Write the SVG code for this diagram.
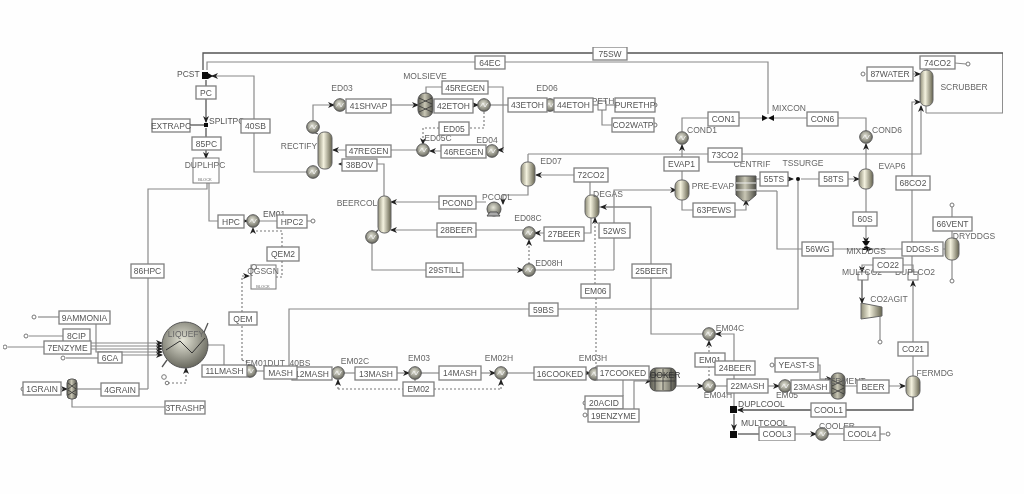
<svg xmlns="http://www.w3.org/2000/svg" width="1024" height="494" viewBox="0 0 1024 494">
<style>
text{font-family:"Liberation Sans",Arial,sans-serif;font-size:8.5px;fill:#555}
.t{text-anchor:middle}
.l{text-anchor:middle;fill:#666}
.b{fill:#fff;stroke:#808080;stroke-width:1.3}
.c{fill:none;stroke:#8a8a8a;stroke-width:1.2}
.k{fill:none;stroke:#555;stroke-width:1.3}
.d{fill:none;stroke:#777;stroke-width:1.1;stroke-dasharray:2 2}
.a{marker-end:url(#ar)}
.o{fill:#fff;stroke:#777;stroke-width:1}
.u{fill:url(#col);stroke:#666;stroke-width:1}
.w{fill:#fff;stroke:#777;stroke-width:1}
.s{fill:#111}
</style>
<defs>
<filter id="soft" x="0" y="0" width="100%" height="100%"><feGaussianBlur stdDeviation="0.4"/></filter>
<linearGradient id="col" x1="0" x2="1" y1="0" y2="0"><stop offset="0" stop-color="#8f8d78"/><stop offset=".4" stop-color="#f4f2df"/><stop offset="1" stop-color="#65634f"/></linearGradient>
<radialGradient id="sph" cx=".45" cy=".4" r=".65"><stop offset="0" stop-color="#e6e6d8"/><stop offset="1" stop-color="#5f5f55"/></radialGradient>
<linearGradient id="grid" x1="0" x2="1" y1="0" y2="0"><stop offset="0" stop-color="#5a5a50"/><stop offset=".45" stop-color="#c8c6b4"/><stop offset="1" stop-color="#4d4d45"/></linearGradient>
<marker id="ar" markerUnits="userSpaceOnUse" markerWidth="8" markerHeight="8" refX="6" refY="4" orient="auto"><path d="M0,1 L7,4 L0,7 L2,4 z" fill="#222"/></marker>
<g id="hx"><circle r="6.3" fill="url(#sph)" stroke="#555" stroke-width="1"/><path d="M-3.5,1.5 L-1,-2 L1,2 L3.5,-2" fill="none" stroke="#eee" stroke-width=".9"/></g>
</defs>
<rect width="1024" height="494" fill="#fefefe"/>
<g id="diagram" filter="url(#soft)">
<g id="connectors">
<polyline class="k" points="1003,113 1003,53 203,53 203,70"/>
<line class="c" x1="1003" y1="113" x2="926" y2="113"/>
<line class="c" x1="926" y1="113" x2="926" y2="106"/>
<polyline class="c" points="768,114 768,62 207,62 207,70"/>
<polyline class="c a" points="313,172 254,172 254,76 212,76"/>
<polyline class="k a" points="206,80 206,122"/>
<line class="k" x1="190" y1="125" x2="206" y2="125"/>
<polyline class="k a" points="206,128 206,158"/>
<polyline class="c" points="148,389 148,189 207,189 207,183"/>
<polyline class="c" points="139,389 148,389"/>
<polyline class="c a" points="209,183 209,221 247,221"/>
<polyline class="c" points="259,221 307,221 311,221"/>
<polyline class="d a" points="282,247 282,231 253,231 253,228"/>
<polyline class="d" points="282,261 282,277 276,277"/>
<polyline class="d a" points="242,360 242,276 249,276"/>
<polyline class="d" points="242,360 247,362 250,367"/>
<line class="c" x1="38" y1="317" x2="59" y2="317"/>
<line class="c" x1="29" y1="336" x2="63" y2="336"/>
<line class="c" x1="8" y1="347" x2="44" y2="347"/>
<line class="c" x1="66" y1="358" x2="98" y2="358"/>
<polyline class="c a" points="90,343 162,343"/>
<polyline class="c a" points="91,346 162,346"/>
<polyline class="c a" points="91,349 162,349"/>
<polyline class="c a" points="96,324 96,352 162,352"/>
<polyline class="c a" points="122,355 162,355"/>
<line class="k" x1="202" y1="337" x2="208" y2="323"/>
<line class="k" x1="162" y1="367" x2="167" y2="360"/>
<polyline class="c a" points="61,389 67,389"/>
<polyline class="c" points="77,389 101,389"/>
<polyline class="c" points="72,399 72,407 165,407"/>
<polyline class="c" points="207,345 224,345 224,365"/>
<polyline class="d a" points="168,383 186,383 186,368"/>
<line class="c" x1="244" y1="371" x2="264" y2="371"/>
<polyline class="c" points="289,366 289,309 798,309 798,179"/>
<polyline class="c a" points="326,373 332,373"/>
<line class="c" x1="344" y1="373" x2="355" y2="373"/>
<polyline class="c a" points="397,373 409,373"/>
<line class="c" x1="421" y1="373" x2="439" y2="373"/>
<polyline class="c a" points="481,373 495,373"/>
<line class="c" x1="507" y1="373" x2="534" y2="373"/>
<polyline class="c a" points="586,373 590,373"/>
<polyline class="d a" points="338,389 338,380"/>
<polyline class="d" points="338,389 403,389"/>
<polyline class="d a" points="501,389 501,380"/>
<polyline class="d" points="434,389 501,389"/>
<line class="d" x1="415" y1="379" x2="415" y2="382"/>
<polyline class="c a" points="623,396 623,377 650,377"/>
<polyline class="c a" points="634,409 634,381 651,381"/>
<line class="c" x1="588" y1="415" x2="584" y2="415"/>
<line class="d" x1="596" y1="368" x2="596" y2="298"/>
<polyline class="d a" points="595,284 595,218"/>
<polyline class="c a" points="676,386 703,386"/>
<polyline class="c" points="715,386 727,386"/>
<polyline class="c a" points="768,386 779,386"/>
<polyline class="c" points="791,386 791,393 832,393"/>
<polyline class="c a" points="773,365 820,365 820,379 832,379"/>
<polyline class="c a" points="845,386 905,386"/>
<polyline class="d a" points="709,380 709,341"/>
<polyline class="c a" points="734,406 734,334 716,334"/>
<polyline class="c" points="703,334 651,334 651,207 599,207"/>
<polyline class="c a" points="651,207 601,207"/>
<polyline class="k a" points="913,396 913,410 738,410"/>
<polyline class="k a" points="734,414 734,430"/>
<polyline class="k" points="738,434 759,434"/>
<polyline class="c a" points="795,434 816,434"/>
<polyline class="c" points="828,434 844,434"/>
<line class="c" x1="880" y1="434" x2="885" y2="434"/>
<polyline class="c a" points="913,376 913,281"/>
<polyline class="c a" points="912,272 912,102 920,102"/>
<polyline class="c a" points="528,154 921,154 921,106"/>
<polyline class="c" points="528,162 528,154"/>
<polyline class="c a" points="867,74 920,74"/>
<polyline class="c" points="927,70 927,63"/>
<line class="c" x1="955" y1="63" x2="966" y2="64"/>
<polyline class="c a" points="908,265 862,265 862,272"/>
<polyline class="c" points="908,265 913,265 913,272"/>
<polyline class="k a" points="862,280 862,303"/>
<polyline class="c" points="880,312 880,340"/>
<polyline class="c a" points="866,189 866,243"/>
<polyline class="c a" points="777,191 777,249 872,249"/>
<polyline class="c" points="756,191 777,191"/>
<line class="c" x1="872" y1="249" x2="945" y2="249"/>
<line class="c" x1="952" y1="238" x2="952" y2="207"/>
<line class="c" x1="952" y1="260" x2="952" y2="279"/>
<polyline class="c a" points="866,169 866,144"/>
<polyline class="c" points="866,131 866,118 774,118"/>
<polyline class="c" points="682,131 682,118 762,118"/>
<polyline class="c a" points="682,180 682,145"/>
<polyline class="c a" points="682,200 682,210 746,210 746,200"/>
<polyline class="c a" points="756,179 793,179"/>
<polyline class="c a" points="801,179 859,179"/>
<polyline class="c a" points="614,270 614,190 676,190"/>
<polyline class="c" points="535,270 614,270"/>
<polyline class="c a" points="372,241 372,270 523,270"/>
<polyline class="d a" points="529,264 529,240"/>
<polyline class="c a" points="584,233 535,233"/>
<polyline class="c" points="584,233 591,233 591,217"/>
<polyline class="c a" points="523,230 391,230"/>
<polyline class="c a" points="590,195 590,175 536,175"/>
<polyline class="c a" points="528,186 528,195 503,195 503,204"/>
<polyline class="c a" points="486,202 391,202"/>
<polyline class="c a" points="384,196 384,164 339,164"/>
<polyline class="c a" points="423,150 333,150"/>
<polyline class="c a" points="486,151 430,151"/>
<polyline class="c" points="426,93 426,87 442,87"/>
<polyline class="c a" points="488,87 503,87 503,150 498,150"/>
<polyline class="c a" points="313,122 313,105 334,105"/>
<polyline class="c a" points="391,105 418,105"/>
<polyline class="c a" points="473,105 478,105"/>
<line class="c" x1="490" y1="105" x2="508" y2="105"/>
<polyline class="d" points="484,112 484,128 469,128"/>
<polyline class="d a" points="439,128 423,128 423,144"/>
<line class="c" x1="547" y1="105" x2="554" y2="105"/>
<line class="c" x1="593" y1="105" x2="615" y2="105"/>
<polyline class="c" points="602,110 602,125 612,125"/>
<polyline class="k" points="318,134 313,132"/>
<polyline class="k" points="318,170 313,172"/>
<polyline class="k" points="378,230 372,237"/>
</g>
<g id="PCST"><rect class="s" x="202" y="72" width="6" height="7"/><path class="s" d="M208,73 L213,76 L208,79 z"/><text x="177" y="77">PCST</text></g>
<g id="SPLITPC"><rect class="s" x="204" y="123" width="4" height="4"/><text x="209" y="124">SPLITPC</text></g>
<g id="DUPLHPC"><rect class="w" x="193" y="158" width="26" height="25"/><text class="l" x="205" y="168">DUPLHPC</text><text class="l" x="205" y="181" style="font-size:4px">BLOCK</text></g>
<g id="QGSGN"><rect class="w" x="251" y="265" width="25" height="24"/><circle class="o" cx="254" cy="267" r="2.5"/><text class="l" x="263" y="274">QGSGN</text><text class="l" x="263" y="288" style="font-size:4px">BLOCK</text></g>
<g id="EM01"><use href="#hx" x="253" y="221"/><text x="263" y="217">EM01</text></g>
<g id="LIQUEFY"><circle cx="185" cy="345" r="23" fill="url(#sph)" stroke="#555"/><path d="M166,350 L180,341 L192,353 L205,338" fill="none" stroke="#333"/><text class="l" x="186" y="337">LIQUEFY</text><circle class="o" cx="164" cy="377" r="2.3"/><circle class="o" cx="167" cy="383" r="1.8"/></g>
<g id="HAMMERMILL"><rect x="67" y="379" width="10" height="20" rx="4" fill="url(#grid)" stroke="#555"/><path d="M68,383 L76,389 M76,383 L68,389 M68,390 L76,395 M76,390 L68,395" stroke="#333" stroke-width=".8"/></g>
<g id="EM01CD"><use href="#hx" x="250" y="371"/><text class="l" x="265" y="366">EM01DUT</text><text class="l" x="300" y="366">40BS</text></g>
<g id="EM02C"><use href="#hx" x="338" y="373"/><text class="l" x="355" y="364">EM02C</text></g>
<g id="EM03"><use href="#hx" x="415" y="373"/><text class="l" x="419" y="361">EM03</text></g>
<g id="EM02H"><use href="#hx" x="501" y="373"/><text class="l" x="499" y="361">EM02H</text></g>
<g id="EM03H"><use href="#hx" x="595" y="374"/><text class="l" x="593" y="361">EM03H</text></g>
<g id="COOKER"><rect x="650" y="368" width="26" height="23" rx="6" fill="url(#grid)" stroke="#444"/><path d="M651,375 H675 M651,381 H675 M655,369 V390 M663,369 V390 M671,369 V390" stroke="#333" stroke-width=".8"/><text class="l" x="662" y="378" style="fill:#333">COOKER</text></g>
<g id="EM04H"><use href="#hx" x="709" y="386"/><text class="l" x="718" y="398">EM04H</text></g>
<g id="EM04C"><use href="#hx" x="709" y="334"/><text class="l" x="730" y="331">EM04C</text></g>
<g id="EM05"><use href="#hx" x="785" y="386"/><text class="l" x="787" y="398">EM05</text></g>
<g id="FERMENT"><rect x="831" y="373" width="14" height="26" rx="6" fill="url(#grid)" stroke="#555"/><path d="M832,380 L844,386 M844,380 L832,386 M832,388 L844,394 M844,388 L832,394" stroke="#333" stroke-width=".8"/><text class="l" x="845" y="384">FERMENT</text></g>
<g id="FERMDG"><rect class="u" x="906" y="376" width="14" height="21" rx="6"/><text class="l" x="935" y="376">FERMDG</text></g>
<g id="DUPLCOOL"><rect class="s" x="730" y="406" width="7" height="7"/><text x="738" y="407">DUPLCOOL</text></g>
<g id="MULTCOOL"><rect class="s" x="730" y="431" width="7" height="7"/><text x="741" y="426">MULTCOOL</text></g>
<g id="COOLER"><use href="#hx" x="822" y="434"/><text class="l" x="837" y="429">COOLER</text></g>
<g id="RECTIFY"><rect class="u" x="318" y="132" width="14" height="37" rx="6"/><use href="#hx" x="313" y="127"/><use href="#hx" x="313" y="172"/><text class="l" x="299" y="149">RECTIFY</text></g>
<g id="ED03"><use href="#hx" x="340" y="105"/><text class="l" x="342" y="91">ED03</text></g>
<g id="MOLSIEVE"><rect x="418" y="93" width="15" height="24" rx="7" fill="url(#grid)" stroke="#555"/><path d="M419,98 L432,104 M432,98 L419,104 M419,106 L432,112 M432,106 L419,112" stroke="#333" stroke-width=".8"/><text class="l" x="425" y="79">MOLSIEVE</text></g>
<g id="ED05H"><use href="#hx" x="484" y="105"/></g>
<g id="ED05C"><use href="#hx" x="423" y="150"/><text class="l" x="438" y="141">ED05C</text></g>
<g id="ED04"><use href="#hx" x="492" y="151"/><text class="l" x="487" y="143">ED04</text></g>
<g id="ED06"><use href="#hx" x="550" y="105"/><text class="l" x="547" y="91">ED06</text></g>
<g id="PETH"><rect class="w" x="598" y="101" width="8" height="9"/><text class="l" x="603" y="104">PETH</text></g>
<g id="ED07"><rect class="u" x="521" y="162" width="14" height="24" rx="6"/><text class="l" x="551" y="164">ED07</text></g>
<g id="BEERCOL"><rect class="u" x="378" y="196" width="13" height="37" rx="6"/><use href="#hx" x="372" y="237"/><text class="l" x="357" y="206">BEERCOL</text></g>
<g id="PCOOL"><circle cx="494" cy="209" r="7" fill="url(#sph)" stroke="#555"/><path d="M487,216 H500 L497,212 H490 z" fill="#aaa" stroke="#555"/><text class="l" x="497" y="200">PCOOL</text></g>
<g id="ED08C"><use href="#hx" x="529" y="233"/><text class="l" x="528" y="221">ED08C</text></g>
<g id="ED08H"><use href="#hx" x="529" y="270"/><text class="l" x="549" y="266">ED08H</text></g>
<g id="DEGAS"><rect class="u" x="585" y="195" width="14" height="23" rx="6"/><text class="l" x="608" y="197">DEGAS</text></g>
<g id="PRE-EVAP"><rect class="u" x="675" y="180" width="14" height="20" rx="6"/><text class="l" x="713" y="189">PRE-EVAP</text></g>
<g id="COND1"><use href="#hx" x="682" y="138"/><text class="l" x="702" y="133">COND1</text></g>
<g id="MIXCON"><path class="s" d="M762,115 L768,118 L762,121 z M774,115 L768,118 L774,121 z"/><text class="l" x="789" y="111">MIXCON</text></g>
<g id="COND6"><use href="#hx" x="866" y="137"/><text class="l" x="887" y="133">COND6</text></g>
<g id="CENTRIF"><path d="M736,176 H756 V195 L749,201 H743 L736,195 z" fill="url(#grid)" stroke="#555"/><path d="M736,183 H756 M736,190 H756" stroke="#eee" stroke-width="1"/><text class="l" x="752" y="167">CENTRIF</text></g>
<g id="TSSURGE"><circle class="s" cx="798" cy="179" r="2"/><text class="l" x="803" y="166">TSSURGE</text></g>
<g id="EVAP6"><rect class="u" x="859" y="169" width="14" height="20" rx="6"/><text class="l" x="892" y="169">EVAP6</text></g>
<g id="SCRUBBER"><rect class="u" x="920" y="70" width="13" height="36" rx="6"/><text class="l" x="964" y="90">SCRUBBER</text></g>
<g id="MIXDDGS"><path class="s" d="M862,241 H870 L866,247 z M862,250 H870 L866,245 z"/><text class="l" x="866" y="254">MIXDDGS</text></g>
<g id="DRYDDGS"><rect class="u" x="945" y="238" width="14" height="22" rx="6"/><text class="l" x="974" y="239">DRYDDGS</text></g>
<g id="MULTCO2"><rect class="w" x="858" y="272" width="10" height="8"/><text class="l" x="862" y="275">MULTCO2</text></g>
<g id="DUPLCO2"><rect class="w" x="908" y="272" width="10" height="8"/><text class="l" x="915" y="275">DUPLCO2</text></g>
<g id="CO2AGIT"><path d="M861,303 L882,307 V316 L861,319 z" fill="url(#col)" stroke="#666"/><text class="l" x="889" y="302">CO2AGIT</text></g>
<g id="outlets">
<circle class="o" cx="34" cy="317" r="2"/><circle class="o" cx="26" cy="336" r="2"/><circle class="o" cx="5" cy="347" r="2"/><circle class="o" cx="63" cy="358" r="2"/><circle class="o" cx="23" cy="389" r="2"/>
<circle class="o" cx="313" cy="221" r="2"/><circle class="o" cx="585" cy="403" r="2"/><circle class="o" cx="585" cy="415" r="2"/><circle class="o" cx="772" cy="365" r="2"/>
<circle class="o" cx="888" cy="434" r="2"/><circle class="o" cx="880" cy="342" r="2"/><circle class="o" cx="952" cy="205" r="2"/><circle class="o" cx="952" cy="281" r="2"/><circle class="o" cx="968" cy="64" r="2"/><circle class="o" cx="863" cy="74" r="2"/><circle class="o" cx="655" cy="105" r="2"/><circle class="o" cx="655" cy="125" r="2"/>
</g>
<g id="s-75SW"><rect class="b" x="593" y="47" width="34" height="13"/><text class="t" x="610" y="56.500">75SW</text></g>
<g id="s-64EC"><rect class="b" x="475" y="56" width="30" height="13"/><text class="t" x="490" y="65.500">64EC</text></g>
<g id="s-PC"><rect class="b" x="196" y="86" width="20" height="13"/><text class="t" x="206" y="95.500">PC</text></g>
<g id="s-EXTRAPC"><rect class="b" x="152" y="119" width="38" height="13"/><text class="t" x="171" y="128.500">EXTRAPC</text></g>
<g id="s-85PC"><rect class="b" x="192" y="137" width="29" height="13"/><text class="t" x="206.500" y="146.500">85PC</text></g>
<g id="s-40SB"><rect class="b" x="241" y="119" width="29" height="14"/><text class="t" x="255.500" y="129">40SB</text></g>
<g id="s-41SHVAP"><rect class="b" x="346" y="99" width="45" height="14"/><text class="t" x="368.500" y="109">41SHVAP</text></g>
<g id="s-45REGEN"><rect class="b" x="442" y="81" width="46" height="13"/><text class="t" x="465" y="90.500">45REGEN</text></g>
<g id="s-42ETOH"><rect class="b" x="434" y="99" width="39" height="14"/><text class="t" x="453.500" y="109">42ETOH</text></g>
<g id="s-ED05"><rect class="b" x="439" y="122" width="30" height="13"/><text class="t" x="454" y="131.500">ED05</text></g>
<g id="s-47REGEN"><rect class="b" x="346" y="145" width="45" height="12"/><text class="t" x="368.500" y="154">47REGEN</text></g>
<g id="s-46REGEN"><rect class="b" x="441" y="145" width="45" height="13"/><text class="t" x="463.500" y="154.500">46REGEN</text></g>
<g id="s-38BOV"><rect class="b" x="342" y="159" width="35" height="12"/><text class="t" x="359.500" y="168">38BOV</text></g>
<g id="s-PCOND"><rect class="b" x="439" y="196" width="37" height="13"/><text class="t" x="457.500" y="205.500">PCOND</text></g>
<g id="s-28BEER"><rect class="b" x="437" y="223" width="39" height="14"/><text class="t" x="456.500" y="233">28BEER</text></g>
<g id="s-29STILL"><rect class="b" x="426" y="263" width="37" height="14"/><text class="t" x="444.500" y="273">29STILL</text></g>
<g id="s-HPC"><rect class="b" x="218" y="215" width="26" height="13"/><text class="t" x="231" y="224.500">HPC</text></g>
<g id="s-HPC2"><rect class="b" x="277" y="215" width="30" height="13"/><text class="t" x="292" y="224.500">HPC2</text></g>
<g id="s-QEM2"><rect class="b" x="267" y="247" width="32" height="14"/><text class="t" x="283" y="257">QEM2</text></g>
<g id="s-QEM"><rect class="b" x="229" y="312" width="28" height="13"/><text class="t" x="243" y="321.500">QEM</text></g>
<g id="s-86HPC"><rect class="b" x="131" y="264" width="33" height="14"/><text class="t" x="147.500" y="274">86HPC</text></g>
<g id="s-9AMMONIA"><rect class="b" x="59" y="311" width="51" height="13"/><text class="t" x="84.500" y="320.500">9AMMONIA</text></g>
<g id="s-8CIP"><rect class="b" x="63" y="329" width="27" height="14"/><text class="t" x="76.500" y="339">8CIP</text></g>
<g id="s-7ENZYME"><rect class="b" x="44" y="341" width="47" height="13"/><text class="t" x="67.500" y="350.500">7ENZYME</text></g>
<g id="s-6CA"><rect class="b" x="98" y="352" width="24" height="11"/><text class="t" x="110" y="360.500">6CA</text></g>
<g id="s-1GRAIN"><rect class="b" x="23" y="382" width="38" height="13"/><text class="t" x="42" y="391.500">1GRAIN</text></g>
<g id="s-4GRAIN"><rect class="b" x="101" y="383" width="38" height="13"/><text class="t" x="120" y="392.500">4GRAIN</text></g>
<g id="s-3TRASHP"><rect class="b" x="165" y="401" width="40" height="13"/><text class="t" x="185" y="410.500">3TRASHP</text></g>
<g id="s-11LMASH"><rect class="b" x="202" y="365" width="45" height="12"/><text class="t" x="224.500" y="374">11LMASH</text></g>
<g id="s-12MASH"><rect class="b" x="292" y="367" width="40" height="13"/><text class="t" x="312" y="376.500">12MASH</text></g>
<g id="s-MASH"><rect class="b" x="264" y="366" width="33" height="13"/><text class="t" x="280.500" y="375.500">MASH</text></g>
<g id="s-59BS"><rect class="b" x="529" y="303" width="29" height="13"/><text class="t" x="543.500" y="312.500">59BS</text></g>
<g id="s-13MASH"><rect class="b" x="355" y="367" width="42" height="13"/><text class="t" x="376" y="376.500">13MASH</text></g>
<g id="s-14MASH"><rect class="b" x="439" y="366" width="42" height="14"/><text class="t" x="460" y="376">14MASH</text></g>
<g id="s-EM02"><rect class="b" x="403" y="382" width="31" height="14"/><text class="t" x="418.500" y="392">EM02</text></g>
<g id="s-16COOKED"><rect class="b" x="534" y="367" width="52" height="13"/><text class="t" x="560" y="376.500">16COOKED</text></g>
<g id="s-17COOKED"><rect class="b" x="597" y="366" width="52" height="14"/><text class="t" x="623" y="376">17COOKED</text></g>
<g id="s-20ACID"><rect class="b" x="585" y="396" width="38" height="13"/><text class="t" x="604" y="405.500">20ACID</text></g>
<g id="s-19ENZYME"><rect class="b" x="588" y="409" width="51" height="13"/><text class="t" x="613.500" y="418.500">19ENZYME</text></g>
<g id="s-EM01"><rect class="b" x="695" y="353" width="30" height="14"/><text class="t" x="710" y="363">EM01</text></g>
<g id="s-24BEER"><rect class="b" x="715" y="361" width="40" height="14"/><text class="t" x="735" y="371">24BEER</text></g>
<g id="s-22MASH"><rect class="b" x="727" y="379" width="41" height="14"/><text class="t" x="747.500" y="389">22MASH</text></g>
<g id="s-YEAST-S"><rect class="b" x="775" y="358" width="43" height="14"/><text class="t" x="796.500" y="368">YEAST-S</text></g>
<g id="s-23MASH"><rect class="b" x="791" y="380" width="39" height="13"/><text class="t" x="810.500" y="389.500">23MASH</text></g>
<g id="s-BEER"><rect class="b" x="857" y="380" width="32" height="13"/><text class="t" x="873" y="389.500">BEER</text></g>
<g id="s-COOL1"><rect class="b" x="811" y="403" width="35" height="14"/><text class="t" x="828.500" y="413">COOL1</text></g>
<g id="s-COOL3"><rect class="b" x="759" y="427" width="36" height="14"/><text class="t" x="777" y="437">COOL3</text></g>
<g id="s-COOL4"><rect class="b" x="844" y="427" width="36" height="14"/><text class="t" x="862" y="437">COOL4</text></g>
<g id="s-CO21"><rect class="b" x="898" y="342" width="30" height="14"/><text class="t" x="913" y="352">CO21</text></g>
<g id="s-43ETOH"><rect class="b" x="508" y="98" width="39" height="14"/><text class="t" x="527.500" y="108">43ETOH</text></g>
<g id="s-44ETOH"><rect class="b" x="554" y="98" width="39" height="14"/><text class="t" x="573.500" y="108">44ETOH</text></g>
<g id="s-PURETHP"><rect class="b" x="615" y="98" width="40" height="14"/><text class="t" x="635" y="108">PURETHP</text></g>
<g id="s-CO2WATP"><rect class="b" x="612" y="118" width="42" height="14"/><text class="t" x="633" y="128">CO2WATP</text></g>
<g id="s-72CO2"><rect class="b" x="574" y="168" width="34" height="14"/><text class="t" x="591" y="178">72CO2</text></g>
<g id="s-EVAP1"><rect class="b" x="664" y="157" width="35" height="14"/><text class="t" x="681.500" y="167">EVAP1</text></g>
<g id="s-27BEER"><rect class="b" x="544" y="227" width="40" height="14"/><text class="t" x="564" y="237">27BEER</text></g>
<g id="s-52WS"><rect class="b" x="599" y="223" width="31" height="15"/><text class="t" x="614.500" y="233.500">52WS</text></g>
<g id="s-25BEER"><rect class="b" x="632" y="264" width="39" height="14"/><text class="t" x="651.500" y="274">25BEER</text></g>
<g id="s-EM06"><rect class="b" x="581" y="284" width="29" height="14"/><text class="t" x="595.500" y="294">EM06</text></g>
<g id="s-CON1"><rect class="b" x="708" y="112" width="31" height="14"/><text class="t" x="723.500" y="122">CON1</text></g>
<g id="s-CON6"><rect class="b" x="807" y="112" width="31" height="14"/><text class="t" x="822.500" y="122">CON6</text></g>
<g id="s-73CO2"><rect class="b" x="708" y="148" width="34" height="14"/><text class="t" x="725" y="158">73CO2</text></g>
<g id="s-63PEWS"><rect class="b" x="693" y="203" width="42" height="14"/><text class="t" x="714" y="213">63PEWS</text></g>
<g id="s-55TS"><rect class="b" x="760" y="172" width="28" height="14"/><text class="t" x="774" y="182">55TS</text></g>
<g id="s-58TS"><rect class="b" x="819" y="172" width="29" height="14"/><text class="t" x="833.500" y="182">58TS</text></g>
<g id="s-60S"><rect class="b" x="853" y="212" width="24" height="14"/><text class="t" x="865" y="222">60S</text></g>
<g id="s-68CO2"><rect class="b" x="896" y="176" width="34" height="14"/><text class="t" x="913" y="186">68CO2</text></g>
<g id="s-66VENT"><rect class="b" x="933" y="217" width="39" height="14"/><text class="t" x="952.500" y="227">66VENT</text></g>
<g id="s-56WG"><rect class="b" x="802" y="242" width="31" height="14"/><text class="t" x="817.500" y="252">56WG</text></g>
<g id="s-DDGS-S"><rect class="b" x="902" y="242" width="41" height="14"/><text class="t" x="922.500" y="252">DDGS-S</text></g>
<g id="s-CO22"><rect class="b" x="873" y="258" width="30" height="14"/><text class="t" x="888" y="268">CO22</text></g>
<g id="s-74CO2"><rect class="b" x="920" y="56" width="35" height="13"/><text class="t" x="937.500" y="65.500">74CO2</text></g>
<g id="s-87WATER"><rect class="b" x="867" y="67" width="46" height="14"/><text class="t" x="890" y="77">87WATER</text></g>
</g>
</svg>
